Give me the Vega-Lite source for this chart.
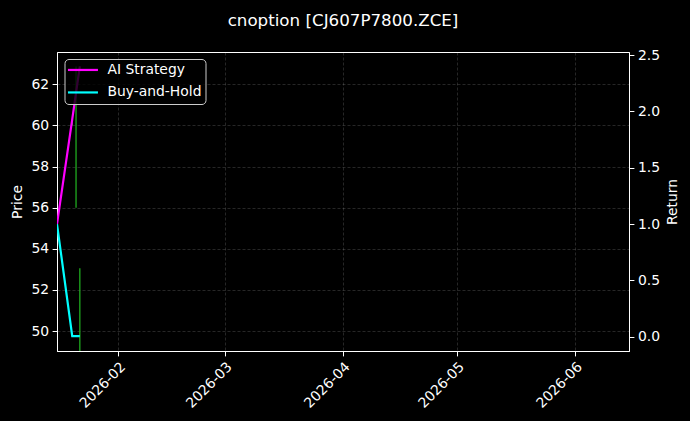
{
  "$schema": "https://vega.github.io/schema/vega-lite/v6.json",
  "autosize": {"type": "none"},
  "padding": {"left": 57, "top": 52, "right": 61, "bottom": 70},
  "width": 572,
  "height": 299,
  "background": "#000000",
  "title": {
    "text": "cnoption [CJ607P7800.ZCE]",
    "font": "DejaVu Sans",
    "fontSize": 16.7,
    "fontWeight": "normal",
    "color": "#ffffff",
    "baseline": "alphabetic",
    "offset": 5,
    "anchor": "middle"
  },
  "datasets": {
    "candles": [
      {"date": "2026-01-20T00:00:00", "low": 60.0, "high": 60.3},
      {"date": "2026-01-21T00:00:00", "low": 56.0, "high": 62.86},
      {"date": "2026-01-22T00:00:00", "low": 48.5, "high": 53.06}
    ],
    "returns": [
      {"date": "2026-01-16T00:00:00", "series": "AI Strategy", "value": 1.0},
      {"date": "2026-01-20T00:00:00", "series": "AI Strategy", "value": 1.93},
      {"date": "2026-01-22T00:00:00", "series": "AI Strategy", "value": 2.40},
      {"date": "2026-01-16T00:00:00", "series": "Buy-and-Hold", "value": 1.0},
      {"date": "2026-01-20T00:00:00", "series": "Buy-and-Hold", "value": 0.005},
      {"date": "2026-01-22T00:00:00", "series": "Buy-and-Hold", "value": 0.005}
    ]
  },
  "layer": [
    {
      "data": {"name": "candles"},
      "mark": {"type": "rule", "color": "#22b822", "strokeWidth": 1.2, "clip": true},
      "encoding": {
        "x": {
          "field": "date",
          "type": "temporal",
          "scale": {"domain": [{"year": 2026, "month": 1, "date": 16}, {"year": 2026, "month": 6, "date": 15, "hours": 6}]},
          "axis": {
            "title": null,
            "values": [
              {"year": 2026, "month": 2, "date": 1},
              {"year": 2026, "month": 3, "date": 1},
              {"year": 2026, "month": 4, "date": 1},
              {"year": 2026, "month": 5, "date": 1},
              {"year": 2026, "month": 6, "date": 1}
            ],
            "format": "%Y-%m",
            "labelAngle": -45,
            "labelAlign": "right",
            "labelBaseline": "top"
          }
        },
        "y": {
          "field": "low",
          "type": "quantitative",
          "scale": {"domain": [49.03, 63.57], "nice": false, "zero": false},
          "axis": {"title": "Price", "values": [50, 52, 54, 56, 58, 60, 62], "format": "d", "orient": "left"}
        },
        "y2": {"field": "high"}
      }
    },
    {
      "data": {"name": "returns"},
      "mark": {"type": "line", "strokeWidth": 2.2, "clip": true},
      "encoding": {
        "x": {"field": "date", "type": "temporal"},
        "y": {
          "field": "value",
          "type": "quantitative",
          "scale": {"domain": [-0.127, 2.528], "nice": false, "zero": false},
          "axis": {"title": "Return", "titleAngle": 270, "titleBaseline": "top", "values": [0, 0.5, 1, 1.5, 2, 2.5], "format": ".1f", "orient": "right"}
        },
        "color": {
          "field": "series",
          "type": "nominal",
          "scale": {"domain": ["AI Strategy", "Buy-and-Hold"], "range": ["#ff00ff", "#00ffff"]},
          "legend": {
            "title": null,
            "orient": "none",
            "legendX": 7.5,
            "legendY": 7,
            "symbolType": "M-3,0H9",
            "symbolSize": 25,
            "symbolStrokeWidth": 2.2,
            "labelFont": "DejaVu Sans",
            "labelFontSize": 13.9,
            "labelColor": "#ffffff",
            "labelOffset": 25,
            "fillColor": "rgba(0,0,0,0.8)",
            "strokeColor": "#cccccc",
            "cornerRadius": 4,
            "padding": 4,
            "rowPadding": 7.5
          }
        }
      }
    }
  ],
  "resolve": {"scale": {"y": "independent"}},
  "config": {
    "view": {"stroke": "#ffffff", "strokeWidth": 1},
    "axis": {
      "domainColor": "#ffffff",
      "tickColor": "#ffffff",
      "labelColor": "#ffffff",
      "titleColor": "#ffffff",
      "labelFont": "DejaVu Sans",
      "titleFont": "DejaVu Sans",
      "labelFontSize": 13.9,
      "titleFontSize": 13.9,
      "titleFontWeight": "normal",
      "tickSize": 4.9,
      "labelPadding": 3.5,
      "titlePadding": 6,
      "gridColor": "#ffffff",
      "gridOpacity": 0.25,
      "gridDash": [3, 2],
      "gridWidth": 0.6
    }
  }
}
